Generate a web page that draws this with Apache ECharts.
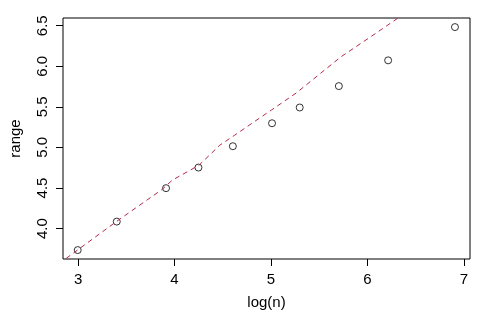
<!DOCTYPE html>
<html>
<head>
<meta charset="utf-8">
<script src="https://cdn.jsdelivr.net/npm/echarts@6/dist/echarts.min.js"></script>
<style>html,body{margin:0;padding:0;background:#fff}#c{width:482px;height:318px}</style>
</head>
<body>
<div id="c"></div>
<script>
// observed points: log(n) and range
const logN = [2.996, 3.401, 3.912, 4.248, 4.605, 5.011, 5.298, 5.704, 6.215, 6.908];
const rangeVals = [3.735, 4.086, 4.498, 4.752, 5.015, 5.298, 5.492, 5.756, 6.073, 6.483];
// red dashed reference curve
const curveX = [2.877, 3.401, 3.874, 3.976, 4.254, 4.470, 4.624, 4.881, 5.004, 5.261, 5.518, 5.724, 6.032, 6.320];
const curveY = [3.633, 4.090, 4.485, 4.596, 4.781, 5.028, 5.151, 5.361, 5.460, 5.670, 5.917, 6.115, 6.362, 6.596];
const xTicks = [3, 4, 5, 6, 7];
const yTicks = [4.0, 4.5, 5.0, 5.5, 6.0, 6.5];

const font = 'Liberation Sans, Arial, sans-serif';
const chart = echarts.init(document.getElementById('c'), null, {renderer: 'canvas'});
chart.setOption({
  animation: false,
  grid: {left: 59.5, right: 12, top: 18, bottom: 59, show: true, borderColor: '#000', borderWidth: 1, backgroundColor: 'transparent'},
  xAxis: {
    type: 'value', min: 2.8435, max: 7.064,
    name: 'log(n)', nameLocation: 'middle', nameGap: 36,
    nameTextStyle: {fontFamily: font, fontSize: 15, color: '#000'},
    axisLine: {show: false},
    splitLine: {show: false},
    axisTick: {show: true, length: 7, lineStyle: {color: '#000'}, customValues: xTicks},
    axisLabel: {fontFamily: font, fontSize: 15, color: '#000', margin: 13, customValues: xTicks, formatter: v => String(v)}
  },
  yAxis: {
    type: 'value', min: 3.625, max: 6.595,
    name: 'range', nameLocation: 'middle', nameGap: 40, nameRotate: 90,
    nameTextStyle: {fontFamily: font, fontSize: 15, color: '#000'},
    axisLine: {show: false},
    splitLine: {show: false},
    axisTick: {show: true, length: 7, lineStyle: {color: '#000'}, customValues: yTicks},
    axisLabel: {fontFamily: font, fontSize: 15, color: '#000', rotate: 90, margin: 13, customValues: yTicks, formatter: v => v.toFixed(1)}
  },
  series: [
    {
      type: 'line', data: curveX.map((x, i) => [x, curveY[i]]),
      showSymbol: false, symbol: 'none', clip: true,
      lineStyle: {color: '#b52848', width: 1, type: [5, 4]}
    },
    {
      type: 'scatter', data: logN.map((x, i) => [x, rangeVals[i]]),
      symbol: 'circle', symbolSize: 7,
      itemStyle: {color: 'transparent', borderColor: '#000', borderWidth: 1}
    }
  ]
});
</script>
</body>
</html>
